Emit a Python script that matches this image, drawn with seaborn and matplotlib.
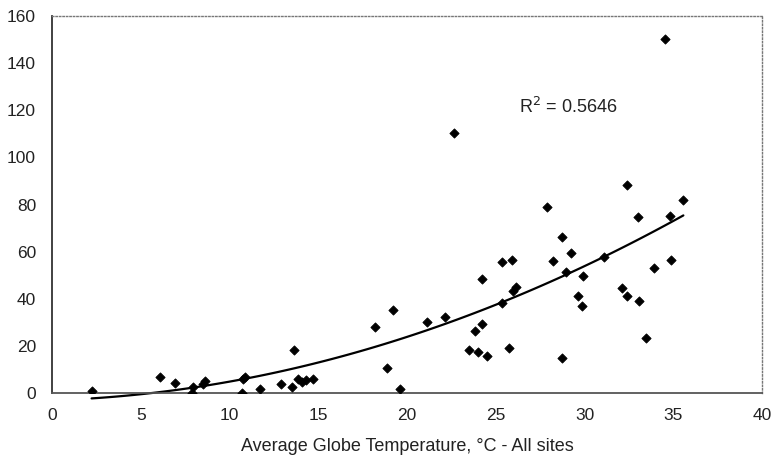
import numpy as np
import pandas as pd
import matplotlib
matplotlib.use("Agg")
import matplotlib.pyplot as plt
import seaborn as sns

globe_temp = [2.23, 6.08, 6.93, 7.87, 7.96, 8.50, 8.62, 10.68, 10.75, 10.87,
              11.72, 12.88, 13.54, 13.63, 13.88, 14.07, 14.29, 14.73, 18.20, 18.85,
              19.23, 19.60, 21.15, 22.14, 22.65, 23.50, 23.83, 23.98, 24.20, 24.20,
              24.48, 25.33, 25.33, 25.77, 25.90, 25.99, 26.14, 27.86, 28.25, 28.75,
              28.75, 28.94, 29.24, 29.65, 29.88, 29.90, 31.10, 32.10, 32.38, 32.38,
              33.00, 33.09, 33.46, 33.92, 34.55, 34.82, 34.85, 35.57]
response = [0.8, 6.9, 4.1, 0.0, 2.7, 4.0, 5.2, 0.0, 6.0, 6.6,
            1.7, 3.7, 2.7, 18.3, 5.8, 4.8, 5.5, 6.1, 28.2, 10.5,
            35.2, 1.6, 30.1, 32.1, 110.2, 18.1, 26.3, 17.4, 29.3, 48.4,
            15.7, 38.3, 55.5, 19.1, 56.5, 43.4, 44.8, 78.8, 56.0, 66.1,
            14.7, 51.4, 59.3, 41.0, 36.8, 49.7, 57.6, 44.4, 41.0, 88.3,
            74.7, 38.9, 23.2, 53.2, 150.3, 75.3, 56.4, 81.9]
x_ticks = [0, 5, 10, 15, 20, 25, 30, 35, 40]
y_ticks = [0, 20, 40, 60, 80, 100, 120, 140, 160]
r2_text = "R$^2$ = 0.5646"
x_label = "Average Globe Temperature, \u00b0C - All sites"

df = pd.DataFrame({"x": globe_temp, "y": response})

sns.set_style("white")
plt.rcParams["font.family"] = ["Liberation Sans", "DejaVu Sans"]

fig = plt.figure(figsize=(7.74, 4.61), dpi=100)
ax = fig.add_axes([52/774, 1-393/461, (762-52)/774, (393-16)/461])

sns.regplot(data=df, x="x", y="y", order=2, ci=None, truncate=True, ax=ax,
            marker="D",
            scatter_kws=dict(s=22, color="black", alpha=1, linewidths=0.6,
                             edgecolors="black", zorder=3),
            line_kws=dict(color="black", lw=1.6, zorder=2, clip_on=False))

ax.set_xlim(0, 40)
ax.set_ylim(0, 160)
ax.set_xticks(x_ticks)
ax.set_yticks(y_ticks)
ax.tick_params(axis="both", direction="inout", length=7, width=1, color="#333333",
               labelsize=12.5, labelcolor="#222222")
ax.tick_params(axis="x", pad=7)
ax.tick_params(axis="y", pad=8)
ax.set_xlabel(x_label, fontsize=13, color="#222222", labelpad=11)
ax.set_ylabel("")

for s in ["top", "right"]:
    ax.spines[s].set_linestyle((0, (1, 1.5)))
    ax.spines[s].set_color("#777777")
    ax.spines[s].set_linewidth(1)
ax.spines["left"].set_color("#333333")
ax.spines["left"].set_linewidth(1.3)
ax.spines["bottom"].set_color("#555555")
ax.spines["bottom"].set_linewidth(1.3)

ax.text(26.3, 121.5, r2_text, fontsize=13, color="#222222", va="center", ha="left")

fig.savefig("out.png", dpi=100)
